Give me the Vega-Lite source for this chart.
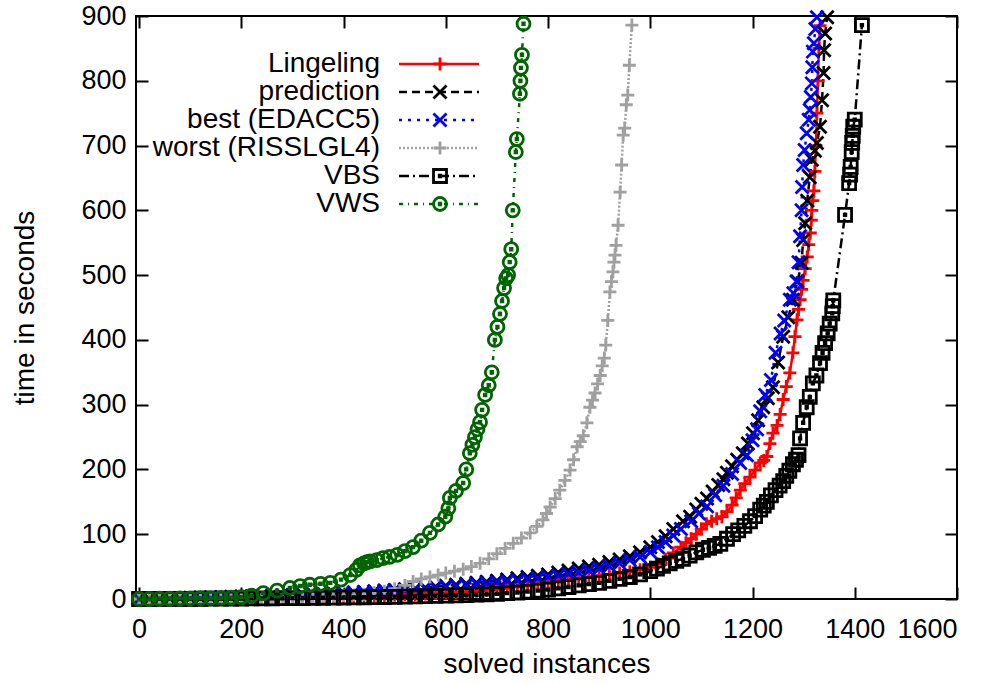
{
"$schema": "https://vega.github.io/schema/vega-lite/v6.json",
"width": 821, "height": 583,
"autosize": {"type": "none"},
"padding": {"left": 136, "top": 16, "right": 37, "bottom": 85},
"background": "white",
"config": {"view": {"stroke": "black", "strokeWidth": 2}, "font": "Liberation Sans"},
"data": {"values": [
{"s":"L","x":0,"y":0},{"s":"L","x":20,"y":0.1},{"s":"L","x":40,"y":0.2},{"s":"L","x":60,"y":0.3},{"s":"L","x":80,"y":0.4},{"s":"L","x":100,"y":0.5},{"s":"L","x":120,"y":0.6},{"s":"L","x":140,"y":0.7},{"s":"L","x":160,"y":0.8},{"s":"L","x":180,"y":0.9},{"s":"L","x":200,"y":1.0},{"s":"L","x":220,"y":1.2},{"s":"L","x":240,"y":1.4},{"s":"L","x":260,"y":1.6},{"s":"L","x":280,"y":1.8},{"s":"L","x":300,"y":2.0},{"s":"L","x":320,"y":2.3},{"s":"L","x":340,"y":2.6},{"s":"L","x":360,"y":2.9},{"s":"L","x":380,"y":3.2},{"s":"L","x":400,"y":3.5},{"s":"L","x":420,"y":3.9},{"s":"L","x":440,"y":4.3},{"s":"L","x":460,"y":4.8},{"s":"L","x":480,"y":5.3},{"s":"L","x":500,"y":5.8},{"s":"L","x":520,"y":6.4},{"s":"L","x":540,"y":7.0},{"s":"L","x":560,"y":7.7},{"s":"L","x":580,"y":8.4},{"s":"L","x":600,"y":9.2},{"s":"L","x":620,"y":10},{"s":"L","x":640,"y":11},{"s":"L","x":660,"y":12},{"s":"L","x":680,"y":13.5},{"s":"L","x":700,"y":15},{"s":"L","x":720,"y":17},{"s":"L","x":740,"y":19},{"s":"L","x":760,"y":21},{"s":"L","x":780,"y":23.5},{"s":"L","x":800,"y":26},{"s":"L","x":820,"y":28},{"s":"L","x":840,"y":30},{"s":"L","x":860,"y":32},{"s":"L","x":880,"y":34},{"s":"L","x":900,"y":36},{"s":"L","x":920,"y":38},{"s":"L","x":940,"y":40},{"s":"L","x":960,"y":42},{"s":"L","x":980,"y":45},{"s":"L","x":1000,"y":49},{"s":"L","x":1015,"y":54},{"s":"L","x":1030,"y":61},{"s":"L","x":1045,"y":71},{"s":"L","x":1060,"y":80},{"s":"L","x":1070,"y":87},{"s":"L","x":1080,"y":93},{"s":"L","x":1090,"y":100},{"s":"L","x":1100,"y":108},{"s":"L","x":1110,"y":116},{"s":"L","x":1120,"y":120},{"s":"L","x":1130,"y":124},{"s":"L","x":1140,"y":127},{"s":"L","x":1150,"y":135},{"s":"L","x":1160,"y":145},{"s":"L","x":1168,"y":156},{"s":"L","x":1176,"y":168},{"s":"L","x":1185,"y":178},{"s":"L","x":1195,"y":188},{"s":"L","x":1205,"y":199},{"s":"L","x":1215,"y":210},{"s":"L","x":1222,"y":214},{"s":"L","x":1228,"y":220},{"s":"L","x":1234,"y":240},{"s":"L","x":1240,"y":256},{"s":"L","x":1248,"y":268},{"s":"L","x":1254,"y":285},{"s":"L","x":1260,"y":308},{"s":"L","x":1266,"y":328},{"s":"L","x":1273,"y":349},{"s":"L","x":1279,"y":380},{"s":"L","x":1283,"y":405},{"s":"L","x":1287,"y":431},{"s":"L","x":1290,"y":447},{"s":"L","x":1293,"y":462},{"s":"L","x":1296,"y":478},{"s":"L","x":1299,"y":492},{"s":"L","x":1303,"y":510},{"s":"L","x":1307,"y":528},{"s":"L","x":1310,"y":547},{"s":"L","x":1313,"y":565},{"s":"L","x":1315,"y":585},{"s":"L","x":1316,"y":600},{"s":"L","x":1318,"y":615},{"s":"L","x":1320,"y":630},{"s":"L","x":1322,"y":660},{"s":"L","x":1324,"y":700},{"s":"L","x":1326,"y":750},{"s":"L","x":1328,"y":800},{"s":"L","x":1330,"y":850},{"s":"L","x":1332,"y":885},
{"s":"P","x":0,"y":0},{"s":"P","x":20,"y":0.3},{"s":"P","x":40,"y":0.6},{"s":"P","x":60,"y":0.9},{"s":"P","x":80,"y":1.2},{"s":"P","x":100,"y":1.5},{"s":"P","x":120,"y":1.9},{"s":"P","x":140,"y":2.3},{"s":"P","x":160,"y":2.7},{"s":"P","x":180,"y":3.1},{"s":"P","x":200,"y":3.5},{"s":"P","x":220,"y":4},{"s":"P","x":240,"y":4.5},{"s":"P","x":260,"y":5},{"s":"P","x":280,"y":5.5},{"s":"P","x":300,"y":6},{"s":"P","x":320,"y":6.6},{"s":"P","x":340,"y":7.2},{"s":"P","x":360,"y":7.8},{"s":"P","x":380,"y":8.5},{"s":"P","x":400,"y":9.2},{"s":"P","x":420,"y":10},{"s":"P","x":440,"y":11},{"s":"P","x":460,"y":12},{"s":"P","x":480,"y":13},{"s":"P","x":500,"y":14},{"s":"P","x":520,"y":15},{"s":"P","x":540,"y":16},{"s":"P","x":560,"y":17.5},{"s":"P","x":580,"y":19},{"s":"P","x":600,"y":20.5},{"s":"P","x":620,"y":22},{"s":"P","x":640,"y":23.5},{"s":"P","x":660,"y":25},{"s":"P","x":680,"y":26.5},{"s":"P","x":700,"y":28},{"s":"P","x":720,"y":30},{"s":"P","x":740,"y":32},{"s":"P","x":760,"y":34},{"s":"P","x":780,"y":36},{"s":"P","x":800,"y":38},{"s":"P","x":820,"y":41},{"s":"P","x":840,"y":44},{"s":"P","x":860,"y":47},{"s":"P","x":880,"y":50},{"s":"P","x":900,"y":53},{"s":"P","x":920,"y":57},{"s":"P","x":940,"y":61},{"s":"P","x":960,"y":66},{"s":"P","x":980,"y":72},{"s":"P","x":1000,"y":80},{"s":"P","x":1015,"y":88},{"s":"P","x":1030,"y":97},{"s":"P","x":1045,"y":108},{"s":"P","x":1064,"y":120},{"s":"P","x":1078,"y":127},{"s":"P","x":1090,"y":138},{"s":"P","x":1100,"y":147},{"s":"P","x":1111,"y":155},{"s":"P","x":1122,"y":166},{"s":"P","x":1133,"y":176},{"s":"P","x":1143,"y":185},{"s":"P","x":1150,"y":195},{"s":"P","x":1160,"y":205},{"s":"P","x":1170,"y":215},{"s":"P","x":1181,"y":225},{"s":"P","x":1191,"y":240},{"s":"P","x":1201,"y":256},{"s":"P","x":1211,"y":276},{"s":"P","x":1221,"y":296},{"s":"P","x":1230,"y":310},{"s":"P","x":1240,"y":327},{"s":"P","x":1250,"y":365},{"s":"P","x":1260,"y":405},{"s":"P","x":1270,"y":435},{"s":"P","x":1279,"y":462},{"s":"P","x":1288,"y":490},{"s":"P","x":1296,"y":519},{"s":"P","x":1299,"y":554},{"s":"P","x":1303,"y":580},{"s":"P","x":1307,"y":615},{"s":"P","x":1312,"y":651},{"s":"P","x":1316,"y":678},{"s":"P","x":1322,"y":692},{"s":"P","x":1326,"y":704},{"s":"P","x":1332,"y":729},{"s":"P","x":1336,"y":770},{"s":"P","x":1339,"y":812},{"s":"P","x":1340,"y":847},{"s":"P","x":1342,"y":873},{"s":"P","x":1346,"y":898},
{"s":"B","x":0,"y":0},{"s":"B","x":20,"y":0.3},{"s":"B","x":40,"y":0.6},{"s":"B","x":60,"y":0.9},{"s":"B","x":80,"y":1.2},{"s":"B","x":100,"y":1.5},{"s":"B","x":120,"y":1.8},{"s":"B","x":140,"y":2.2},{"s":"B","x":160,"y":2.6},{"s":"B","x":180,"y":3.0},{"s":"B","x":200,"y":3.4},{"s":"B","x":220,"y":3.8},{"s":"B","x":240,"y":4.3},{"s":"B","x":260,"y":4.8},{"s":"B","x":280,"y":5.3},{"s":"B","x":300,"y":5.8},{"s":"B","x":320,"y":6.3},{"s":"B","x":340,"y":6.9},{"s":"B","x":360,"y":7.5},{"s":"B","x":380,"y":8.1},{"s":"B","x":400,"y":8.8},{"s":"B","x":420,"y":9.5},{"s":"B","x":440,"y":10.3},{"s":"B","x":460,"y":11.1},{"s":"B","x":480,"y":12},{"s":"B","x":500,"y":13},{"s":"B","x":520,"y":14},{"s":"B","x":540,"y":15},{"s":"B","x":560,"y":16},{"s":"B","x":580,"y":17.3},{"s":"B","x":600,"y":18.6},{"s":"B","x":620,"y":20},{"s":"B","x":640,"y":21.5},{"s":"B","x":660,"y":23},{"s":"B","x":680,"y":24.5},{"s":"B","x":700,"y":26},{"s":"B","x":720,"y":27.5},{"s":"B","x":740,"y":29},{"s":"B","x":760,"y":30.5},{"s":"B","x":780,"y":32},{"s":"B","x":800,"y":34},{"s":"B","x":820,"y":36},{"s":"B","x":840,"y":38.5},{"s":"B","x":860,"y":41},{"s":"B","x":880,"y":44},{"s":"B","x":900,"y":47},{"s":"B","x":920,"y":51},{"s":"B","x":940,"y":55},{"s":"B","x":960,"y":60},{"s":"B","x":980,"y":65},{"s":"B","x":1000,"y":72},{"s":"B","x":1015,"y":80},{"s":"B","x":1030,"y":88},{"s":"B","x":1045,"y":98},{"s":"B","x":1060,"y":108},{"s":"B","x":1080,"y":120},{"s":"B","x":1095,"y":132},{"s":"B","x":1111,"y":143},{"s":"B","x":1127,"y":160},{"s":"B","x":1143,"y":175},{"s":"B","x":1160,"y":193},{"s":"B","x":1176,"y":210},{"s":"B","x":1189,"y":222},{"s":"B","x":1200,"y":245},{"s":"B","x":1209,"y":262},{"s":"B","x":1215,"y":290},{"s":"B","x":1225,"y":315},{"s":"B","x":1236,"y":338},{"s":"B","x":1245,"y":380},{"s":"B","x":1255,"y":410},{"s":"B","x":1262,"y":430},{"s":"B","x":1273,"y":462},{"s":"B","x":1280,"y":472},{"s":"B","x":1286,"y":490},{"s":"B","x":1290,"y":520},{"s":"B","x":1293,"y":560},{"s":"B","x":1296,"y":600},{"s":"B","x":1297,"y":636},{"s":"B","x":1299,"y":670},{"s":"B","x":1302,"y":693},{"s":"B","x":1306,"y":719},{"s":"B","x":1310,"y":740},{"s":"B","x":1312,"y":755},{"s":"B","x":1314,"y":775},{"s":"B","x":1316,"y":796},{"s":"B","x":1317,"y":821},{"s":"B","x":1318,"y":845},{"s":"B","x":1320,"y":858},{"s":"B","x":1323,"y":880},{"s":"B","x":1326,"y":898},
{"s":"W","x":0,"y":0},{"s":"W","x":20,"y":0.1},{"s":"W","x":40,"y":0.2},{"s":"W","x":60,"y":0.3},{"s":"W","x":80,"y":0.4},{"s":"W","x":100,"y":0.5},{"s":"W","x":120,"y":0.6},{"s":"W","x":140,"y":0.7},{"s":"W","x":160,"y":0.8},{"s":"W","x":180,"y":0.9},{"s":"W","x":200,"y":1.0},{"s":"W","x":220,"y":1.2},{"s":"W","x":240,"y":1.4},{"s":"W","x":260,"y":1.6},{"s":"W","x":280,"y":1.9},{"s":"W","x":300,"y":2.2},{"s":"W","x":320,"y":2.6},{"s":"W","x":340,"y":3.0},{"s":"W","x":360,"y":3.6},{"s":"W","x":380,"y":4.3},{"s":"W","x":400,"y":5},{"s":"W","x":420,"y":6},{"s":"W","x":440,"y":7.5},{"s":"W","x":460,"y":9.5},{"s":"W","x":480,"y":12},{"s":"W","x":500,"y":16},{"s":"W","x":520,"y":21},{"s":"W","x":536,"y":27},{"s":"W","x":552,"y":31},{"s":"W","x":569,"y":34},{"s":"W","x":585,"y":37},{"s":"W","x":600,"y":40},{"s":"W","x":617,"y":43},{"s":"W","x":634,"y":46},{"s":"W","x":650,"y":50},{"s":"W","x":667,"y":55},{"s":"W","x":684,"y":62},{"s":"W","x":700,"y":70},{"s":"W","x":716,"y":78},{"s":"W","x":732,"y":86},{"s":"W","x":748,"y":94},{"s":"W","x":765,"y":102},{"s":"W","x":778,"y":112},{"s":"W","x":790,"y":122},{"s":"W","x":797,"y":132},{"s":"W","x":804,"y":142},{"s":"W","x":814,"y":155},{"s":"W","x":823,"y":168},{"s":"W","x":833,"y":183},{"s":"W","x":843,"y":199},{"s":"W","x":850,"y":215},{"s":"W","x":857,"y":235},{"s":"W","x":863,"y":243},{"s":"W","x":869,"y":252},{"s":"W","x":876,"y":272},{"s":"W","x":882,"y":296},{"s":"W","x":887,"y":307},{"s":"W","x":892,"y":318},{"s":"W","x":897,"y":332},{"s":"W","x":902,"y":345},{"s":"W","x":906,"y":360},{"s":"W","x":910,"y":372},{"s":"W","x":913,"y":392},{"s":"W","x":917,"y":430},{"s":"W","x":921,"y":474},{"s":"W","x":924,"y":490},{"s":"W","x":927,"y":505},{"s":"W","x":929,"y":520},{"s":"W","x":931,"y":531},{"s":"W","x":933,"y":546},{"s":"W","x":937,"y":577},{"s":"W","x":941,"y":628},{"s":"W","x":944,"y":670},{"s":"W","x":947,"y":716},{"s":"W","x":950,"y":727},{"s":"W","x":953,"y":763},{"s":"W","x":956,"y":778},{"s":"W","x":959,"y":824},{"s":"W","x":964,"y":886},
{"s":"V","x":0,"y":0},{"s":"V","x":20,"y":0.05},{"s":"V","x":40,"y":0.1},{"s":"V","x":60,"y":0.15},{"s":"V","x":80,"y":0.2},{"s":"V","x":100,"y":0.3},{"s":"V","x":120,"y":0.4},{"s":"V","x":140,"y":0.5},{"s":"V","x":160,"y":0.6},{"s":"V","x":180,"y":0.7},{"s":"V","x":200,"y":0.8},{"s":"V","x":220,"y":0.9},{"s":"V","x":240,"y":1.0},{"s":"V","x":260,"y":1.1},{"s":"V","x":280,"y":1.2},{"s":"V","x":300,"y":1.3},{"s":"V","x":320,"y":1.5},{"s":"V","x":340,"y":1.7},{"s":"V","x":360,"y":1.9},{"s":"V","x":380,"y":2.1},{"s":"V","x":400,"y":2.3},{"s":"V","x":420,"y":2.5},{"s":"V","x":440,"y":2.7},{"s":"V","x":460,"y":2.9},{"s":"V","x":480,"y":3.1},{"s":"V","x":500,"y":3.4},{"s":"V","x":520,"y":3.7},{"s":"V","x":540,"y":4.0},{"s":"V","x":560,"y":4.4},{"s":"V","x":580,"y":4.8},{"s":"V","x":600,"y":5.2},{"s":"V","x":620,"y":5.6},{"s":"V","x":640,"y":6.0},{"s":"V","x":660,"y":6.6},{"s":"V","x":680,"y":7.2},{"s":"V","x":700,"y":8},{"s":"V","x":720,"y":9},{"s":"V","x":740,"y":10},{"s":"V","x":760,"y":11.5},{"s":"V","x":780,"y":13},{"s":"V","x":800,"y":14.5},{"s":"V","x":820,"y":16.5},{"s":"V","x":840,"y":18.5},{"s":"V","x":860,"y":21},{"s":"V","x":880,"y":23},{"s":"V","x":900,"y":25},{"s":"V","x":920,"y":28},{"s":"V","x":940,"y":31},{"s":"V","x":960,"y":34},{"s":"V","x":980,"y":38},{"s":"V","x":1000,"y":43},{"s":"V","x":1013,"y":47},{"s":"V","x":1025,"y":51},{"s":"V","x":1038,"y":55},{"s":"V","x":1051,"y":59},{"s":"V","x":1064,"y":62},{"s":"V","x":1077,"y":67},{"s":"V","x":1090,"y":72},{"s":"V","x":1103,"y":76},{"s":"V","x":1115,"y":79},{"s":"V","x":1126,"y":82},{"s":"V","x":1137,"y":85},{"s":"V","x":1150,"y":93},{"s":"V","x":1162,"y":100},{"s":"V","x":1172,"y":106},{"s":"V","x":1184,"y":113},{"s":"V","x":1195,"y":120},{"s":"V","x":1205,"y":128},{"s":"V","x":1215,"y":138},{"s":"V","x":1222,"y":144},{"s":"V","x":1228,"y":150},{"s":"V","x":1236,"y":160},{"s":"V","x":1245,"y":168},{"s":"V","x":1253,"y":175},{"s":"V","x":1260,"y":182},{"s":"V","x":1266,"y":190},{"s":"V","x":1272,"y":198},{"s":"V","x":1279,"y":208},{"s":"V","x":1285,"y":215},{"s":"V","x":1290,"y":222},{"s":"V","x":1293,"y":248},{"s":"V","x":1299,"y":272},{"s":"V","x":1306,"y":296},{"s":"V","x":1312,"y":312},{"s":"V","x":1318,"y":333},{"s":"V","x":1325,"y":345},{"s":"V","x":1332,"y":364},{"s":"V","x":1337,"y":380},{"s":"V","x":1342,"y":395},{"s":"V","x":1347,"y":410},{"s":"V","x":1351,"y":425},{"s":"V","x":1356,"y":441},{"s":"V","x":1357,"y":452},{"s":"V","x":1358,"y":461},{"s":"V","x":1381,"y":593},{"s":"V","x":1389,"y":642},{"s":"V","x":1391,"y":655},{"s":"V","x":1392,"y":667},{"s":"V","x":1394,"y":690},{"s":"V","x":1395,"y":704},{"s":"V","x":1396,"y":715},{"s":"V","x":1397,"y":729},{"s":"V","x":1400,"y":740},{"s":"V","x":1414,"y":886},
{"s":"G","x":0,"y":0},{"s":"G","x":20,"y":0.3},{"s":"G","x":40,"y":0.5},{"s":"G","x":60,"y":0.7},{"s":"G","x":80,"y":0.9},{"s":"G","x":100,"y":1.1},{"s":"G","x":120,"y":1.3},{"s":"G","x":140,"y":1.5},{"s":"G","x":160,"y":1.8},{"s":"G","x":180,"y":2.2},{"s":"G","x":200,"y":2.8},{"s":"G","x":220,"y":5},{"s":"G","x":243,"y":9},{"s":"G","x":270,"y":13},{"s":"G","x":295,"y":17},{"s":"G","x":315,"y":20},{"s":"G","x":334,"y":22},{"s":"G","x":355,"y":23.5},{"s":"G","x":374,"y":25},{"s":"G","x":395,"y":30},{"s":"G","x":413,"y":37},{"s":"G","x":425,"y":45},{"s":"G","x":432,"y":52},{"s":"G","x":440,"y":55},{"s":"G","x":446,"y":57},{"s":"G","x":452,"y":58},{"s":"G","x":465,"y":60},{"s":"G","x":477,"y":63},{"s":"G","x":490,"y":65},{"s":"G","x":505,"y":68},{"s":"G","x":520,"y":74},{"s":"G","x":536,"y":80},{"s":"G","x":552,"y":90},{"s":"G","x":569,"y":102},{"s":"G","x":585,"y":115},{"s":"G","x":599,"y":127},{"s":"G","x":605,"y":140},{"s":"G","x":608,"y":156},{"s":"G","x":620,"y":167},{"s":"G","x":634,"y":179},{"s":"G","x":640,"y":200},{"s":"G","x":647,"y":225},{"s":"G","x":652,"y":238},{"s":"G","x":657,"y":250},{"s":"G","x":662,"y":262},{"s":"G","x":667,"y":273},{"s":"G","x":671,"y":292},{"s":"G","x":677,"y":315},{"s":"G","x":684,"y":330},{"s":"G","x":690,"y":350},{"s":"G","x":696,"y":400},{"s":"G","x":701,"y":420},{"s":"G","x":706,"y":440},{"s":"G","x":710,"y":460},{"s":"G","x":714,"y":480},{"s":"G","x":718,"y":495},{"s":"G","x":722,"y":500},{"s":"G","x":725,"y":520},{"s":"G","x":728,"y":540},{"s":"G","x":731,"y":600},{"s":"G","x":737,"y":690},{"s":"G","x":739,"y":710},{"s":"G","x":745,"y":780},{"s":"G","x":746,"y":800},{"s":"G","x":747,"y":820},{"s":"G","x":749,"y":840},{"s":"G","x":752,"y":888}
]},
"layer": [
{"mark": {"type": "line", "strokeWidth": 2.5},
 "encoding": {
  "x": {"field": "x", "type": "quantitative", "scale": {"domain": [-6, 1600], "nice": false, "zero": false},
        "axis": {"orient": "bottom", "values": [0,200,400,600,800,1000,1200,1400,1600], "format": "d", "grid": false, "domain": false, "tickSize": -12, "tickWidth": 2, "tickColor": "black", "labelFontSize": 27, "labelColor": "black", "labelPadding": 29, "labelFont": "Liberation Sans", "title": "solved instances", "titleFontSize": 28, "titleFontWeight": "normal", "titleColor": "black", "titlePadding": 8, "titleFont": "Liberation Sans"}},
  "y": {"field": "y", "type": "quantitative", "scale": {"domain": [0, 900], "nice": false},
        "axis": {"orient": "left", "values": [0,100,200,300,400,500,600,700,800,900], "format": "d", "grid": false, "domain": false, "tickSize": -12, "tickWidth": 2, "tickColor": "black", "labelFontSize": 27, "labelColor": "black", "labelPadding": 22, "labelFont": "Liberation Sans", "title": "time in seconds", "titleFontSize": 28, "titleFontWeight": "normal", "titleColor": "black", "titlePadding": 41, "titleFont": "Liberation Sans"}},
  "color": {"field": "s", "type": "nominal",
   "scale": {"domain": ["L","P","B","W","V","G"], "range": ["#ff0000","#000000","#0000ff","#a0a0a0","#000000","#006400"]},
   "legend": {"orient": "none", "legendX": 289, "legendY": 34, "title": null, "symbolType": "M-5,0H5", "symbolSize": 256, "symbolStrokeWidth": 2.5, "labelOpacity": 0, "labelFontSize": 28, "rowPadding": 0, "padding": 0}},
  "strokeDash": {"field": "s", "type": "nominal",
   "scale": {"domain": ["L","P","B","W","V","G"], "range": [[1,0],[8,5],[3,6],[2,2],[10,4,2,4],[4,5,1,5]]},
   "legend": {"orient": "none", "legendX": 289, "legendY": 34, "title": null, "symbolType": "M-5,0H5", "symbolSize": 256, "symbolStrokeWidth": 2.5, "labelOpacity": 0, "labelFontSize": 28, "rowPadding": 0, "padding": 0}}
 }},
{"mark": {"type": "point", "filled": false, "size": 169, "strokeWidth": 2.8, "opacity": 1},
 "encoding": {
  "x": {"field": "x", "type": "quantitative", "scale": {"domain": [-6, 1600], "nice": false, "zero": false},
        "axis": {"orient": "top", "values": [0,200,400,600,800,1000,1200,1400,1600], "grid": false, "domain": false, "labels": false, "tickSize": -12, "tickWidth": 2, "tickColor": "black", "title": null}},
  "y": {"field": "y", "type": "quantitative", "scale": {"domain": [0, 900], "nice": false},
        "axis": {"orient": "right", "values": [0,100,200,300,400,500,600,700,800,900], "grid": false, "domain": false, "labels": false, "tickSize": -12, "tickWidth": 2, "tickColor": "black", "title": null}},
  "color": {"field": "s", "type": "nominal",
   "scale": {"domain": ["L","P","B","W","V","G"], "range": ["#ff0000","#000000","#0000ff","#a0a0a0","#000000","#006400"]},
   "legend": {"orient": "none", "legendX": 290, "legendY": 34, "title": null, "symbolSize": 169, "symbolStrokeWidth": 2.8, "labelAlign": "right", "labelOffset": -74, "labelFontSize": 28, "labelLimit": 0, "labelColor": "black", "labelFont": "Liberation Sans", "rowPadding": 0, "padding": 0,
     "labelExpr": "datum.label == 'L' ? 'Lingeling' : datum.label == 'P' ? 'prediction' : datum.label == 'B' ? 'best (EDACC5)' : datum.label == 'W' ? 'worst (RISSLGL4)' : datum.label == 'V' ? 'VBS' : 'VWS'"}},
  "shape": {"field": "s", "type": "nominal",
   "scale": {"domain": ["L","P","B","W","V","G"], "range": ["M-1,0H1M0,-1V1","M-1,-1L1,1M-1,1L1,-1","M-1,-1L1,1M-1,1L1,-1","M-1,0H1M0,-1V1","M-1,-1H1V1H-1Z M-0.12,-0.12H0.12V0.12H-0.12Z","M1,0A1,1,0,1,1,-1,0A1,1,0,1,1,1,0Z M-0.12,-0.12H0.12V0.12H-0.12Z"]},
   "legend": {"orient": "none", "legendX": 290, "legendY": 34, "title": null, "symbolSize": 169, "symbolStrokeWidth": 2.8, "labelAlign": "right", "labelOffset": -74, "labelFontSize": 28, "labelLimit": 0, "labelColor": "black", "labelFont": "Liberation Sans", "rowPadding": 0, "padding": 0,
     "labelExpr": "datum.label == 'L' ? 'Lingeling' : datum.label == 'P' ? 'prediction' : datum.label == 'B' ? 'best (EDACC5)' : datum.label == 'W' ? 'worst (RISSLGL4)' : datum.label == 'V' ? 'VBS' : 'VWS'"}}
 }}
],
"resolve": {"axis": {"x": "independent", "y": "independent"}, "legend": {"color": "independent", "shape": "independent", "strokeDash": "independent"}}
}
